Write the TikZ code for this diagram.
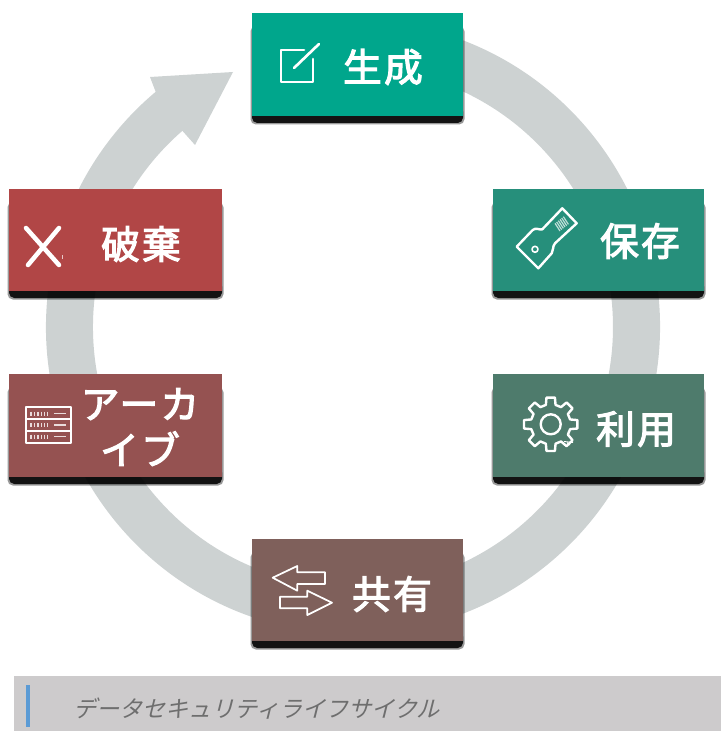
\documentclass[tikz,border=0pt]{standalone}
\usepackage{fontspec}
\newfontfamily\jpb[LetterSpace=6,FakeBold=3]{Noto Sans CJK JP}
\newfontfamily\jpc[FakeSlant=0.25]{Noto Sans CJK JP}
\definecolor{ringc}{HTML}{CDD2D2}
\definecolor{capc}{HTML}{CDCBCC}
\definecolor{barc}{HTML}{5B9BD5}
\definecolor{capt}{HTML}{6E6E6E}
\definecolor{c1}{HTML}{00A68C}
\definecolor{c2}{HTML}{268F7B}
\definecolor{c3}{HTML}{4E7B6C}
\definecolor{c4}{HTML}{7F605B}
\definecolor{c5}{HTML}{955251}
\definecolor{c6}{HTML}{B14646}
\tikzset{
  box/.style={draw=none,fill=#1,inner sep=0pt,anchor=north west},
  lab/.style={text=white,font=\jpb\fontsize{29}{32}\selectfont,inner sep=0pt},
  ico/.style={draw=white,line width=2pt,line join=round,fill=none},
  thinico/.style={draw=white,line width=1.1pt,line join=round,fill=none},
  shA/.style={fill=black,opacity=.4,rounded corners=4pt},
  shB/.style={fill=black,opacity=.88,rounded corners=4pt}
}
\newcommand{\shadowfor}[4]{% x1 y1 x2 y2 of the box
  \fill[shA] (#1-1.5,#2+13) rectangle (#3+1.5,#4+8.5);
  \fill[shB] (#1,#4-10) rectangle (#3,#4+7);
}
\begin{document}
\begin{tikzpicture}[x=0.75pt,y=-0.75pt]
\useasboundingbox (0,0) rectangle (721,731);
% ring with arrow head
\fill[ringc] (353,327) ++(-80:307) arc[start angle=-80,end angle=230,radius=307]
  -- (150,77) -- (233,72) -- (195,145) -- (182.4,130.8)
  arc[start angle=229,end angle=-80,radius=260] -- cycle;
% shadows
\shadowfor{252}{13}{463}{116}
\shadowfor{493}{189}{704}{291}
\shadowfor{493}{374}{704}{477}
\shadowfor{252}{539}{463}{641}
\shadowfor{9}{374}{222}{477}
\shadowfor{9}{189}{222}{291}
% boxes
\node[box=c1,minimum width=158.25pt,minimum height=77.25pt] (gen) at (252,13) {};
\node[box=c2,minimum width=158.25pt,minimum height=76.5pt] (sav) at (493,189) {};
\node[box=c3,minimum width=158.25pt,minimum height=77.25pt] (use) at (493,374) {};
\node[box=c4,minimum width=158.25pt,minimum height=76.5pt] (sha) at (252,539) {};
\node[box=c5,minimum width=159.75pt,minimum height=77.25pt] (arc) at (9,374) {};
\node[box=c6,minimum width=159.75pt,minimum height=76.5pt] (des) at (9,189) {};
% labels
\node[lab] (tgen) at (383,67) {生成};
\node[lab] (tsav) at (640,241) {保存};
\node[lab] (tuse) at (636,429) {利用};
\node[lab] (tsha) at (392,594) {共有};
\node[lab] (tdes) at (141,244) {破棄};
\node[lab,align=center,font=\jpb\fontsize{29}{34.5}\selectfont] (tarc) at (140,427) {アーカ\\イブ};
% icon: create
\draw[ico,line cap=round] (304,50) -- (281,50) -- (281,82) -- (313,82) -- (313,59);
\draw[ico,line cap=round] (294,68) -- (319,44);
% icon: destroy
\draw[draw=white,line width=3.4pt,line cap=round] (26,228) -- (59,265);
\draw[draw=white,line width=3.4pt,line cap=round] (59,228) -- (28,265);
\draw[draw=white!70!c6,line width=.6pt] (62.7,255) -- (62.7,259);
% icon: archive
\draw[thinico] (26,407) rectangle (71,443);
\draw[thinico] (26,419) -- (71,419) (26,431) -- (71,431);
\foreach \yy in {413.5,425,436.5}{
  \foreach \xx in {31,34.5,38,41.5,44.5,47.5}{
    \draw[draw=white!80!c5,line width=.9pt] (\xx,\yy-2) -- (\xx,\yy+2);
  }
  \draw[draw=white!80!c5,line width=1pt] (54,\yy) -- (66,\yy);
}
% icon: key
\draw[ico,line width=1.8pt] (562.3,208.3) -- (576.7,223.3) -- (555,243.3)
  .. controls (552,247) and (554,250) .. (551.7,253.3) -- (538.3,268.3) -- (516.7,246.7)
  -- (532.7,230) .. controls (536,227) and (540,230.5) .. (542.3,229.3) -- cycle;
\draw[thinico,line width=1.2pt] (535,249.3) circle (3);
\foreach \k in {0,1,2,3,4,5}{
  \draw[draw=white!70!c2,line width=.9pt] (555+\k*1.67,223.3-\k*1.33) -- (560+\k*1.67,231-\k*1.33);
}
% icon: gear
\begin{scope}[shift={(550.7,424.3)}]
\draw[ico,line width=1.8pt] (-14:20) \foreach \a in {0,45,...,315}{
  -- (\a-14:20) -- (\a-9:27) -- (\a+9:27) -- (\a+14:20) -- (\a+31:20)
} -- cycle;
\draw[ico,line width=1.8pt] (0,0) circle (10);
\end{scope}
\draw[draw=white,line width=.7pt] (564,441.5) -- (573,442.5) (567,443) -- (570,445);
% icon: share
\draw[thinico,line width=1.3pt] (272.7,577.7) -- (297.3,566) -- (297.3,572.3) -- (325,572.3)
  -- (325,584) -- (297.3,584) -- (297.3,590.7) -- cycle;
\draw[thinico,line width=1.3pt] (332,602.7) -- (307.3,590.7) -- (307.3,596.7) -- (280,596.7)
  -- (280,608.3) -- (307.3,608.3) -- (307.3,615) -- cycle;
% caption
\node[box=capc,minimum width=530.25pt,minimum height=41.25pt] (cap) at (14,676) {};
\node[box=barc,minimum width=3pt,minimum height=31pt] (capbar) at (26,685) {};
\node[text=capt,font=\jpc\fontsize{17.3}{20}\selectfont,inner sep=0pt,anchor=west] (captxt) at (73,708.5) {データセキュリティライフサイクル};
\end{tikzpicture}
\end{document}
